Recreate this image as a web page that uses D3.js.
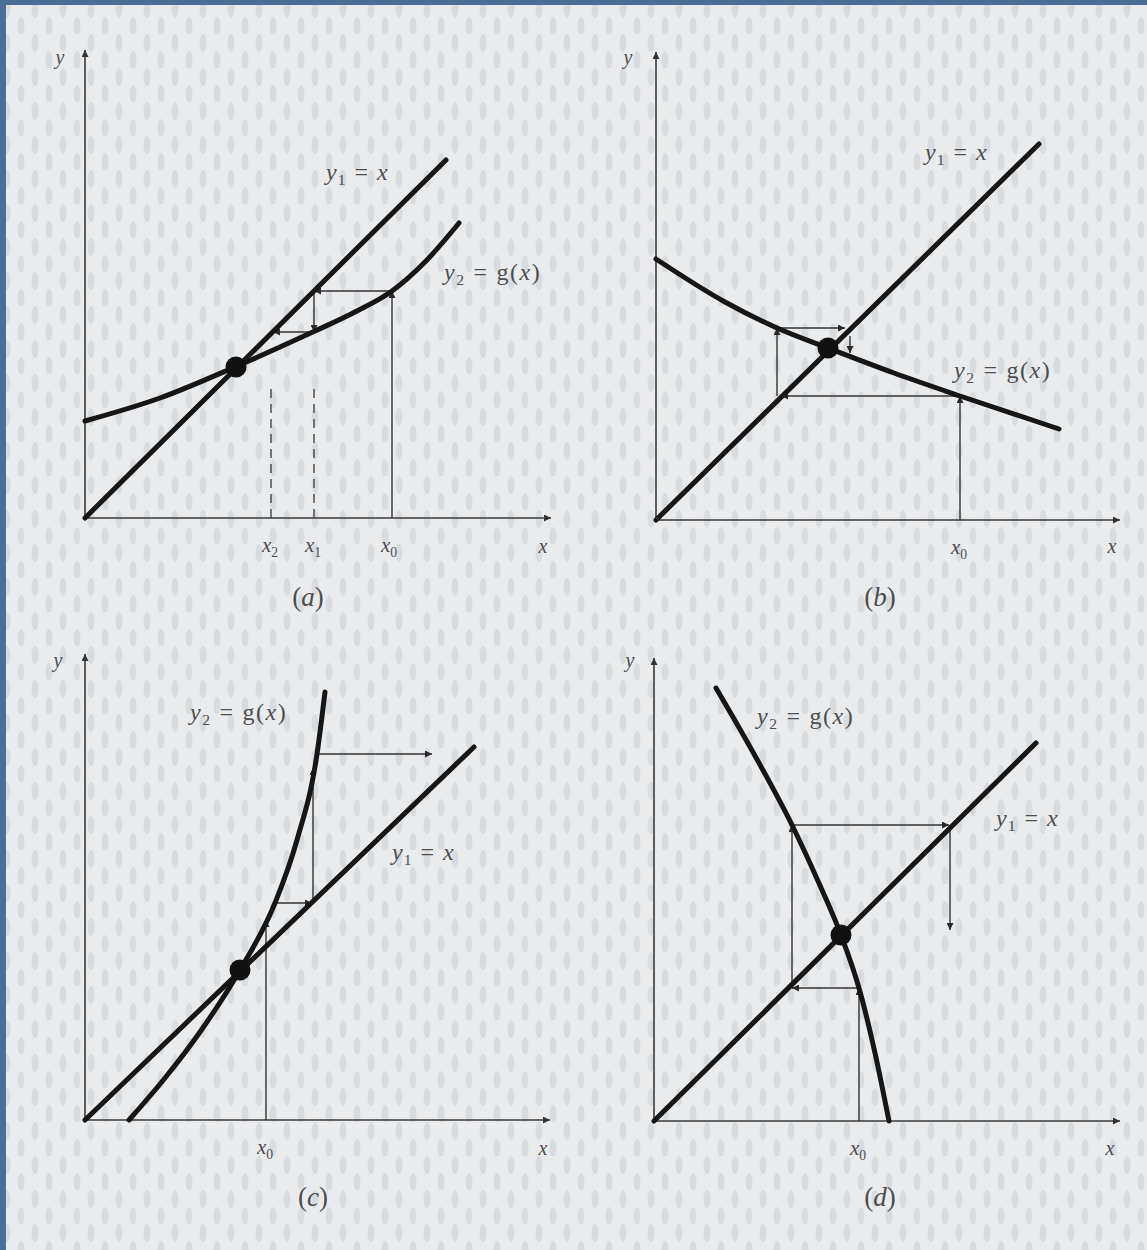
<!DOCTYPE html>
<html>
<head>
<meta charset="utf-8">
<script src="https://cdn.jsdelivr.net/npm/d3@7"></script>
<style>
  body { margin: 0; background: #4a6e98; }
  svg { display: block; }
  text { font-family: "Liberation Serif", "DejaVu Serif", serif; fill: #4d4d4d; }
</style>
</head>
<body>
<script>
// values (x, y in drawing units, 100 px per unit)

// (a) convergent, monotone
var gA = [[0, 0.97], [0.75, 1.20], [1.50, 1.51], [1.95, 1.71], [2.30, 1.87],
          [2.70, 2.06], [3.07, 2.27], [3.40, 2.56], [3.74, 2.95]];
var lineA = [[0, 0], [3.61, 3.58]];
var webA = [[[3.07, 0], [3.07, 2.27]], [[3.07, 2.27], [2.29, 2.27]],
            [[2.29, 2.27], [2.29, 1.86]], [[2.29, 1.86], [1.88, 1.86]]];
var dashA = [2.29, 1.86];
var fixA = [1.51, 1.51];

// (b) convergent, oscillating
var gB = [[0, 2.61], [0.69, 2.18], [1.21, 1.92], [1.72, 1.72], [2.38, 1.47],
          [3.04, 1.24], [4.03, 0.91]];
var lineB = [[0, 0], [3.83, 3.76]];
var webB = [[[3.04, 0], [3.04, 1.24]], [[3.04, 1.24], [1.25, 1.24]],
            [[1.21, 1.24], [1.21, 1.92]], [[1.21, 1.92], [1.89, 1.92]],
            [[1.94, 1.84], [1.94, 1.67]]];
var fixB = [1.72, 1.72];

// (c) divergent, monotone
var gC = [[0.44, 0], [0.80, 0.42], [1.15, 0.88], [1.55, 1.50], [1.90, 2.17],
          [2.12, 2.80], [2.32, 3.66], [2.40, 4.28]];
var lineC = [[0, 0], [3.89, 3.73]];
var webC = [[[1.81, 0], [1.81, 2.00]], [[1.89, 2.17], [2.27, 2.17]],
            [[2.28, 2.17], [2.28, 3.52]], [[2.31, 3.66], [3.47, 3.66]]];
var fixC = [1.55, 1.50];

// (d) divergent, oscillating
var gD = [[0.62, 4.33], [1.00, 3.67], [1.38, 2.96], [1.64, 2.40], [1.87, 1.86],
          [2.05, 1.33], [2.21, 0.68], [2.35, 0]];
var lineD = [[0, 0], [3.82, 3.78]];
var webD = [[[2.05, 0], [2.05, 1.33]], [[2.05, 1.33], [1.38, 1.33]],
            [[1.38, 1.33], [1.38, 2.96]], [[1.38, 2.96], [2.95, 2.96]],
            [[2.96, 2.96], [2.96, 1.91]]];
var fixD = [1.87, 1.86];

var ticksA = [{x: 1.86, sub: "2"}, {x: 2.29, sub: "1"}, {x: 3.05, sub: "0"}];
var ticksB = [{x: 3.04, sub: "0"}];
var ticksC = [{x: 1.81, sub: "0"}];
var ticksD = [{x: 2.05, sub: "0"}];

var W = 1147, H = 1250;

var svg = d3.select("body").append("svg")
    .attr("width", W)
    .attr("height", H);

var defs = svg.append("defs");

// speckled paper texture of the scan
var pat = defs.append("pattern")
    .attr("id", "paper")
    .attr("patternUnits", "userSpaceOnUse")
    .attr("width", 28)
    .attr("height", 34);
pat.append("rect").attr("width", 28).attr("height", 34).attr("fill", "#e9ebed");
pat.append("ellipse").attr("cx", 7).attr("cy", 9).attr("rx", 3.5).attr("ry", 9).attr("fill", "#d9dcdf");
pat.append("ellipse").attr("cx", 21).attr("cy", 26).attr("rx", 3.5).attr("ry", 9).attr("fill", "#d9dcdf");

defs.append("marker")
    .attr("id", "tip")
    .attr("markerUnits", "userSpaceOnUse")
    .attr("viewBox", "0 0 10 10")
    .attr("refX", 10).attr("refY", 5)
    .attr("markerWidth", 9).attr("markerHeight", 7)
    .attr("orient", "auto")
  .append("path")
    .attr("d", "M0,0 L10,5 L0,10 Z")
    .attr("fill", "#2a2a2a");

defs.append("marker")
    .attr("id", "axtip")
    .attr("markerUnits", "userSpaceOnUse")
    .attr("viewBox", "0 0 10 10")
    .attr("refX", 10).attr("refY", 5)
    .attr("markerWidth", 10).attr("markerHeight", 7)
    .attr("orient", "auto")
  .append("path")
    .attr("d", "M0,0 L10,5 L0,10 Z")
    .attr("fill", "#333");

// blue frame on top and left, paper inside
svg.append("rect")
    .attr("x", 6).attr("y", 5)
    .attr("width", W - 6).attr("height", H - 5)
    .attr("fill", "url(#paper)");

var panels = [
  {g: gA, line: lineA, web: webA, fix: fixA, ticks: ticksA, dash: dashA,
   ox: 85, oy: 518, xEnd: 551, yTop: 50, cap: "a", capX: 308, capY: 606,
   l1: [326, 180], l2: [444, 280], yl: [60, 64], xl: [543, 553]},
  {g: gB, line: lineB, web: webB, fix: fixB, ticks: ticksB,
   ox: 656, oy: 520, xEnd: 1120, yTop: 52, cap: "b", capX: 880, capY: 606,
   l1: [925, 160], l2: [954, 378], yl: [628, 64], xl: [1112, 553]},
  {g: gC, line: lineC, web: webC, fix: fixC, ticks: ticksC,
   ox: 85, oy: 1120, xEnd: 550, yTop: 654, cap: "c", capX: 313, capY: 1206,
   l1: [392, 860], l2: [190, 720], yl: [58, 667], xl: [543, 1155]},
  {g: gD, line: lineD, web: webD, fix: fixD, ticks: ticksD,
   ox: 654, oy: 1121, xEnd: 1120, yTop: 658, cap: "d", capX: 880, capY: 1206,
   l1: [996, 826], l2: [757, 724], yl: [630, 667], xl: [1110, 1155]}
];

function label(sel, x, y, base, sub, rest, size) {
  var t = sel.append("text").attr("x", x).attr("y", y).attr("font-size", size);
  t.append("tspan").attr("font-style", "italic").text(base);
  if (sub) t.append("tspan").attr("font-size", size * 0.65).attr("dy", 5).text(sub);
  if (rest) {
    t.append("tspan").attr("dy", sub ? -5 : 0).attr("dx", 8).text("=");
    if (rest[0]) {
      t.append("tspan").attr("dx", 8).text(rest[0]);
      t.append("tspan").attr("font-style", "italic").text(rest[1]);
    } else {
      t.append("tspan").attr("dx", 8).attr("font-style", "italic").text(rest[1]);
    }
  }
  return t;
}

panels.forEach(function(p) {
  var x = d3.scaleLinear().domain([0, 1]).range([p.ox, p.ox + 100]);
  var y = d3.scaleLinear().domain([0, 1]).range([p.oy, p.oy - 100]);
  var G = svg.append("g");

  // axes
  G.append("line")
      .attr("x1", p.ox).attr("y1", p.oy).attr("x2", p.ox).attr("y2", p.yTop)
      .attr("stroke", "#3a3a3a").attr("stroke-width", 1.6)
      .attr("marker-end", "url(#axtip)");
  G.append("line")
      .attr("x1", p.ox).attr("y1", p.oy).attr("x2", p.xEnd).attr("y2", p.oy)
      .attr("stroke", "#3a3a3a").attr("stroke-width", 1.6)
      .attr("marker-end", "url(#axtip)");

  // dashed guides (panel a)
  if (p.dash) {
    G.selectAll(".dash").data(p.dash).enter().append("line")
        .attr("x1", function(d) { return x(d); })
        .attr("x2", function(d) { return x(d); })
        .attr("y1", y(0)).attr("y2", y(1.35))
        .attr("stroke", "#444").attr("stroke-width", 1.4)
        .attr("stroke-dasharray", "9,6");
  }

  // cobweb steps, each with its own arrow
  G.selectAll(".seg").data(p.web).enter().append("line")
      .attr("x1", function(d) { return x(d[0][0]); })
      .attr("y1", function(d) { return y(d[0][1]); })
      .attr("x2", function(d) { return x(d[1][0]); })
      .attr("y2", function(d) { return y(d[1][1]); })
      .attr("stroke", "#333").attr("stroke-width", 1.4)
      .attr("marker-end", "url(#tip)");

  var lineGen = d3.line()
      .x(function(d) { return x(d[0]); })
      .y(function(d) { return y(d[1]); });

  G.append("path")
      .attr("d", lineGen(p.line))
      .attr("fill", "none").attr("stroke", "#161616").attr("stroke-width", 5)
      .attr("stroke-linecap", "round");

  G.append("path")
      .attr("d", lineGen.curve(d3.curveMonotoneX)(p.g))
      .attr("fill", "none").attr("stroke", "#161616").attr("stroke-width", 5)
      .attr("stroke-linecap", "round");

  G.append("circle")
      .attr("cx", x(p.fix[0])).attr("cy", y(p.fix[1]))
      .attr("r", 10.5).attr("fill", "#111");

  // text
  label(G, p.l1[0], p.l1[1], "y", "1", ["", "x"], 24).attr("letter-spacing", 1);
  label(G, p.l2[0], p.l2[1], "y", "2", ["g(", "x"], 24).attr("letter-spacing", 1.5)
      .append("tspan").text(")");
  label(G, p.yl[0], p.yl[1], "y", null, null, 20).attr("text-anchor", "middle");
  label(G, p.xl[0], p.xl[1], "x", null, null, 20).attr("text-anchor", "middle");

  p.ticks.forEach(function(t) {
    label(G, x(t.x) - 9, p.oy + 34, "x", t.sub, null, 21);
  });

  var c = G.append("text")
      .attr("x", p.capX).attr("y", p.capY)
      .attr("text-anchor", "middle").attr("font-size", 27);
  c.append("tspan").text("(");
  c.append("tspan").attr("font-style", "italic").text(p.cap);
  c.append("tspan").text(")");
});
</script>
</body>
</html>
